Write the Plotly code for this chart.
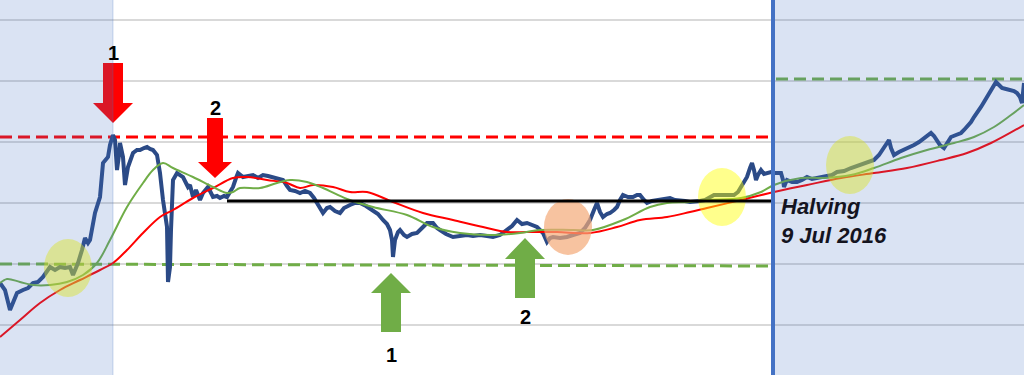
import plotly.graph_objects as go

# ---------------- data (x = day index, y = price level in chart units) ----------------
price_x = [0, 5, 10, 14, 17, 23, 28, 33, 38, 43, 50, 55, 60, 65, 70, 73, 76, 78, 82, 85, 88, 90, 95, 98, 100,
           103, 106, 108, 110, 112, 113, 115, 117, 119, 120, 123, 125, 128, 130, 133, 137, 140, 144, 147, 150,
           153, 157, 160, 163, 165, 167, 168, 170, 171, 172, 173, 177, 180, 183, 188, 190, 193, 196, 200, 203,
           208, 211, 213, 217, 220, 224, 227, 230, 233, 236, 238, 243, 248, 253, 258, 263, 268, 273, 278, 283,
           287, 290, 295, 300, 305, 310, 314, 317, 320, 323, 327, 330, 335, 340, 344, 347, 350, 355, 360, 366,
           373, 378, 383, 387, 390, 392, 393, 395, 398, 400, 404, 407, 412, 417, 422, 427, 433, 437, 440, 446,
           453, 460, 467, 473, 480, 487, 493, 500, 507, 512, 517, 522, 527, 532, 537, 543, 547, 550, 553, 560,
           567, 573, 580, 585, 590, 594, 597, 600, 603, 607, 610, 614, 617, 620, 623, 628, 633, 637, 640, 644,
           647, 652, 657, 663, 670, 675, 680, 685, 690, 694, 700, 705, 710, 714, 720, 727, 734, 738, 741, 744,
           747, 750, 752, 754, 756, 758, 761, 764, 767, 771, 774, 778, 781, 783, 784, 786, 787, 792, 797, 802,
           807, 812, 817, 822, 827, 832, 837, 844, 851, 857, 864, 869, 874, 879, 884, 887, 889, 891, 894, 899,
           904, 909, 914, 919, 924, 928, 931, 934, 937, 940, 944, 947, 951, 956, 961, 964, 967, 971, 974, 978,
           981, 984, 987, 990, 993, 996, 999, 1002, 1006, 1011, 1014, 1017, 1020, 1022, 1024]
price_y = [92, 85, 65, 75, 82, 85, 87, 92, 93, 98, 108, 105, 108, 107, 108, 100, 107, 112, 125, 137, 132, 135, 162, 170, 178,
           212, 215, 218, 230, 235, 240, 235, 205, 220, 232, 218, 190, 208, 215, 222, 225, 225, 227, 228, 226,
           225, 220, 202, 175, 160, 148, 93, 108, 145, 182, 195, 202, 200, 198, 188, 190, 178, 185, 175, 182,
           188, 182, 178, 179, 177, 179, 178, 183, 188, 197, 202, 198, 199, 200, 197, 200, 199, 198, 197, 195,
           189, 185, 184, 182, 184, 182, 177, 172, 167, 162, 167, 168, 164, 162, 167, 168, 170, 172, 172, 169,
           165, 161, 155, 151, 145, 135, 118, 135, 143, 145, 140, 138, 141, 142, 147, 152, 152, 147, 145, 141,
           138, 139, 140, 139, 140, 139, 138, 140, 145, 149, 155, 151, 152, 150, 148, 142, 133, 137, 138, 137,
           138, 140, 142, 147, 155, 165, 172, 163, 158, 161, 162, 165, 168, 175, 180, 178, 178, 180, 180, 175,
           172, 174, 175, 176, 177, 175, 175, 174, 173, 173, 174, 175, 178, 180, 180, 180, 180, 183, 188, 192,
           198, 207, 212, 205, 195, 200, 205, 201, 202, 203, 202, 202, 202, 195, 188, 193, 195, 193, 193, 195,
           198, 196, 197, 197, 198, 200, 203, 204, 207, 209, 212, 213, 215, 220, 228, 232, 235, 227, 220, 223,
           225, 227, 230, 233, 237, 240, 242, 239, 235, 230, 227, 232, 238, 240, 242, 245, 248, 253, 258, 263,
           268, 273, 278, 283, 288, 293, 290, 287, 286, 285, 284, 282, 278, 272, 292]

ma_fast_x = [0, 7, 20, 33, 50, 67, 83, 97, 110, 127, 143, 153, 163, 173, 193, 213, 227, 233, 240, 260, 277, 290,
             307, 323, 347, 373, 407, 433, 460, 490, 520, 540, 573, 593, 623, 650, 667, 690, 707, 741, 761, 774,
             801, 824, 851, 874, 901, 927, 954, 974, 994, 1011, 1024]
ma_fast_y = [92, 96, 93, 90, 90, 93, 100, 112, 135, 168, 192, 205, 212, 207, 198, 188, 182, 183, 187, 187, 192, 195,
             193, 187, 176, 168, 160, 148, 142, 140, 142, 145, 145, 145, 155, 168, 172, 173, 175, 177, 183, 190,
             197, 197, 200, 207, 217, 225, 232, 238, 248, 260, 270]

ma_slow_x = [0, 20, 40, 60, 80, 100, 113, 127, 143, 160, 173, 193, 213, 233, 247, 267, 287, 300, 313, 333, 350,
             367, 393, 423, 453, 483, 507, 527, 557, 590, 617, 640, 667, 690, 707, 741, 774, 807, 841, 874, 907,
             941, 967, 991, 1024]
ma_slow_y = [38, 55, 72, 85, 95, 105, 112, 125, 142, 158, 165, 177, 187, 197, 198, 195, 192, 187, 190, 188, 183,
             183, 173, 162, 155, 148, 143, 143, 143, 142, 148, 155, 158, 163, 167, 175, 183, 190, 197, 202, 207,
             215, 222, 232, 250]

grid_levels = [50, 111, 172, 233, 294, 355]

resistance_level = 238          # red dashed
support_level_start = [0, 111]  # lower green dashed (x, y)
support_level_end = [770, 109]
upper_level = 296               # upper green dashed after halving
neckline_level = 174            # black line
neckline_span = [227, 775]
halving_x = 773
shade_left = [0, 113]
shade_right = [775, 1024]

# block arrows: (tip_x, tip_y, head_base_y, tail_y, body_half, head_half, label, label_y)
red_arrows = [(113, 252, 272, 312, 10, 20, "1", 322),
              (215, 197, 213, 257, 8, 17, "2", 267)]
green_arrows = [(391, 102, 82, 43, 10, 20, "1", 20),
                (525, 137, 116, 77, 10, 20, "2", 58)]

# highlight ellipses: (center_x, center_y, rx, ry, colour)
highlights = [(68, 107, 24, 29, "rgba(255,255,0,0.45)"),
              (568, 148, 24, 28, "rgba(244,170,120,0.7)"),
              (722, 178, 24, 29, "rgba(255,255,0,0.45)"),
              (850, 210, 24, 29, "rgba(255,255,0,0.45)")]

# ---------------- figure ----------------
fig = go.Figure()

fig.add_trace(go.Scatter(x=[0, halving_x], y=[resistance_level, resistance_level], mode="lines",
                         line=dict(color="#FF0000", width=3, dash="12px,6px"), hoverinfo="skip"))
fig.add_trace(go.Scatter(x=[support_level_start[0], support_level_end[0]],
                         y=[support_level_start[1], support_level_end[1]], mode="lines",
                         line=dict(color="#70AD47", width=3, dash="12px,6px"), hoverinfo="skip"))
fig.add_trace(go.Scatter(x=[halving_x + 3, 1024], y=[upper_level, upper_level], mode="lines",
                         line=dict(color="#70AD47", width=3, dash="12px,6px"), hoverinfo="skip"))

fig.add_trace(go.Scatter(x=price_x, y=price_y, mode="lines",
                         line=dict(color="#2B4A86", width=4), hoverinfo="skip"))
fig.add_trace(go.Scatter(x=ma_slow_x, y=ma_slow_y, mode="lines", line_shape="spline",
                         line=dict(color="#FF0000", width=2), hoverinfo="skip"))
fig.add_trace(go.Scatter(x=ma_fast_x, y=ma_fast_y, mode="lines", line_shape="spline",
                         line=dict(color="#70AD47", width=2), hoverinfo="skip"))

shapes = []
for cx, cy, rx, ry, col in highlights:
    shapes.append(dict(type="circle", xref="x", yref="y", x0=cx - rx, x1=cx + rx, y0=cy - ry, y1=cy + ry,
                       fillcolor=col, line=dict(width=0), layer="above"))

# neckline
shapes.append(dict(type="line", xref="x", yref="y", x0=neckline_span[0], x1=neckline_span[1],
                   y0=neckline_level, y1=neckline_level, line=dict(color="black", width=3), layer="above"))


def arrow_path(tx, ty, hy, ty2, bh, hh):
    return (f"M {tx} {ty} L {tx - hh} {hy} L {tx - bh} {hy} L {tx - bh} {ty2} "
            f"L {tx + bh} {ty2} L {tx + bh} {hy} L {tx + hh} {hy} Z")


annotations = []
for tx, ty, hy, ty2, bh, hh, lab, ly in red_arrows:
    shapes.append(dict(type="path", xref="x", yref="y", path=arrow_path(tx, ty, hy, ty2, bh, hh),
                       fillcolor="#FF0000", line=dict(width=0), layer="above"))
    annotations.append(dict(x=tx, y=ly, text=f"<b>{lab}</b>", showarrow=False,
                            font=dict(family="Liberation Sans, Arial", size=20, color="black")))
for tx, ty, hy, ty2, bh, hh, lab, ly in green_arrows:
    shapes.append(dict(type="path", xref="x", yref="y", path=arrow_path(tx, ty, hy, ty2, bh, hh),
                       fillcolor="#70AD47", line=dict(width=0), layer="above"))
    annotations.append(dict(x=tx, y=ly, text=f"<b>{lab}</b>", showarrow=False,
                            font=dict(family="Liberation Sans, Arial", size=20, color="black")))

# shaded periods (translucent, on top)
for x0, x1 in (shade_left, shade_right):
    shapes.append(dict(type="rect", xref="x", yref="paper", x0=x0, x1=x1, y0=0, y1=1,
                       fillcolor="rgba(68,114,196,0.2)", line=dict(width=0), layer="above"))
shapes.append(dict(type="line", xref="x", yref="paper", x0=shade_left[1], x1=shade_left[1], y0=0, y1=1,
                   line=dict(color="rgba(68,114,196,0.25)", width=1), layer="above"))

# halving line
shapes.append(dict(type="line", xref="x", yref="paper", x0=halving_x, x1=halving_x, y0=0, y1=1,
                   line=dict(color="#4472C4", width=4), layer="above"))

annotations.append(dict(x=halving_x + 6, y=183, xanchor="left", yanchor="top", align="left",
                        text="<b><i>Halving</i></b><br><b><i>9 Jul 2016</i></b>", showarrow=False,
                        font=dict(family="Liberation Sans, Arial", size=22, color="#14141F")))

fig.update_layout(
    width=1024, height=375,
    margin=dict(l=0, r=0, t=0, b=0),
    paper_bgcolor="white", plot_bgcolor="white",
    showlegend=False,
    shapes=shapes, annotations=annotations,
    xaxis=dict(range=[0, 1024], showgrid=False, zeroline=False, showticklabels=False, ticks="",
               fixedrange=True),
    yaxis=dict(range=[0, 375], tickvals=grid_levels, showgrid=True, gridcolor="#D9D9D9", gridwidth=2,
               zeroline=False, showticklabels=False, ticks="", fixedrange=True),
)

fig.write_html("out.html", config={"displayModeBar": False},
               post_script="document.body.style.margin='0';document.body.style.overflow='hidden';")
